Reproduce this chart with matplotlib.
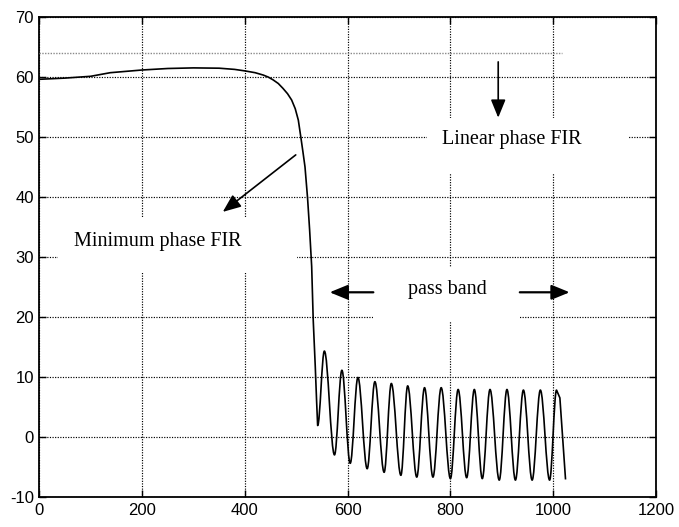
import matplotlib
matplotlib.use("Agg")
import matplotlib.pyplot as plt
from matplotlib.path import Path
from matplotlib.patches import PathPatch, Rectangle

plt.rcParams["axes.unicode_minus"] = False

# minimum phase FIR: smooth top and roll-off
min_x = [0, 50, 100, 138, 200, 250, 300, 350, 380, 400, 420, 436, 446, 455,
         465, 474, 483, 491, 498, 504, 509, 513, 517, 522, 526, 530, 533, 537,
         539.5]
min_y = [59.7, 59.9, 60.2, 60.8, 61.25, 61.5, 61.6, 61.55, 61.35, 61.1, 60.8,
         60.4, 60.05, 59.6, 59.0, 58.2, 57.3, 56.25, 54.8, 52.9, 50.0, 47.6,
         45.1, 39.9, 34.6, 28.5, 19.6, 11.8, 6.25]

# ripple extremes (trough, peak, trough, ...)
ripple_x = [541.6, 554.7, 574.4, 588.8, 605, 620, 638, 653, 671, 685, 703.6,
            716.8, 734.5, 749.6, 766, 782, 800, 815, 831.6, 846.5, 862, 877,
            895, 910, 926.5, 942, 959, 975, 993, 1006.5]
ripple_y = [2.0, 14.4, -2.9, 11.2, -4.3, 10.0, -5.2, 9.3, -5.8, 9.0, -6.3, 8.6,
            -6.6, 8.3, -6.6, 8.3, -6.85, 8.0, -6.7, 8.0, -6.85, 8.0, -7.1, 8.0,
            -7.1, 7.9, -7.1, 7.9, -7.1, 7.9]
tail_x = [1013, 1024]
tail_y = [6.6, -7.0]

# linear phase FIR (flat)
lin_x = [0, 1018]
lin_y = [64.0, 64.0]

x_ticks = [0, 200, 400, 600, 800, 1000, 1200]
y_ticks = [-10, 0, 10, 20, 30, 40, 50, 60, 70]

fig = plt.figure(figsize=(6.79, 5.27), dpi=100)
ax = fig.add_axes([0.0579, 0.056, 0.9082, 0.9108])
ax.set_xlim(0, 1200)
ax.set_ylim(-10, 70)
ax.set_xticks(x_ticks)
ax.set_yticks(y_ticks)
ax.set_axisbelow(True)
ax.grid(True, color="black", linestyle=(0, (1, 1.2)), linewidth=0.85)
ax.tick_params(direction="in", length=5, width=1.0, top=True, right=True,
               labelsize=12)
ax.tick_params(axis="y", pad=4)
ax.tick_params(axis="x", pad=4)
for lab in ax.get_xticklabels() + ax.get_yticklabels():
    lab.set_family("Liberation Sans")
for sp in ax.spines.values():
    sp.set_linewidth(1.3)

# white boxes behind the labels (they break the grid in the original)
for (bx0, bx1, by0, by1) in [(36, 501, 27.4, 36.6), (754, 1145, 44.1, 53.25),
                             (649, 935, 19.25, 28.4)]:
    ax.add_patch(Rectangle((bx0, by0), bx1 - bx0, by1 - by0, facecolor="white",
                           edgecolor="none", zorder=1))

ax.plot(lin_x, lin_y, color="#8a8a8a", linestyle=(0, (1, 1)), linewidth=1.0,
        zorder=3)

# build min-phase curve; ripple drawn with bezier halves between extremes
verts = list(zip(min_x, min_y)) + [(ripple_x[0], ripple_y[0])]
codes = [Path.MOVETO] + [Path.LINETO] * (len(verts) - 1)
for i in range(1, len(ripple_x)):
    x0, y0 = ripple_x[i - 1], ripple_y[i - 1]
    x1, y1 = ripple_x[i], ripple_y[i]
    k = 0.36 * (x1 - x0)
    verts += [(x0 + k, y0), (x1 - k, y1), (x1, y1)]
    codes += [Path.CURVE4] * 3
verts += list(zip(tail_x, tail_y))
codes += [Path.LINETO] * len(tail_x)
ax.add_patch(PathPatch(Path(verts, codes), fill=False, edgecolor="black",
                       linewidth=1.2, joinstyle="round", zorder=4))

serif = "Liberation Serif"
ax.text(919, 49.6, "Linear phase FIR", family=serif, fontsize=14.5,
        ha="center", va="center", zorder=5)
ax.text(231, 32.6, "Minimum phase FIR", family=serif, fontsize=14.5,
        ha="center", va="center", zorder=5)
ax.text(795, 24.7, "pass band", family=serif, fontsize=14.5,
        ha="center", va="center", zorder=5)

arrow = dict(arrowstyle="-|>,head_length=1.1,head_width=0.45", color="black",
             lw=1.2, mutation_scale=10, shrinkA=0, shrinkB=0)
ax.annotate("", xy=(893, 53.3), xytext=(893, 62.6), arrowprops=arrow, zorder=5)
ax.annotate("", xy=(357, 37.6), xytext=(499, 47.1), arrowprops=arrow, zorder=5)
arrow2 = dict(arrow, lw=1.6)
ax.annotate("", xy=(565, 24.2), xytext=(650, 24.2), arrowprops=arrow2, zorder=5)
ax.annotate("", xy=(1032, 24.2), xytext=(935, 24.2), arrowprops=arrow2, zorder=5)

fig.savefig("out.png", dpi=100)
